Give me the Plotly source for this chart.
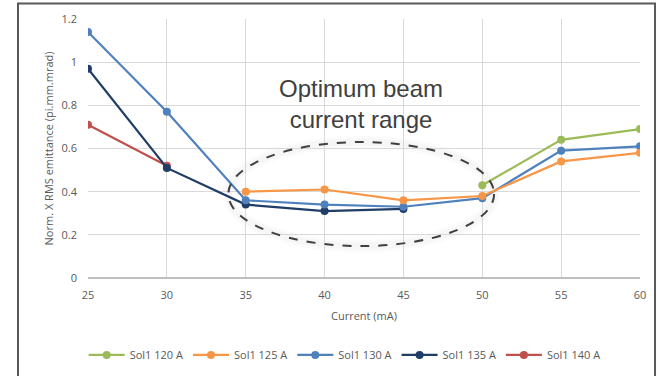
import plotly.graph_objects as go

x120 = [50, 55, 60]
y120 = [0.43, 0.64, 0.69]
x125 = [35, 40, 45, 50, 55, 60]
y125 = [0.40, 0.41, 0.36, 0.38, 0.54, 0.58]
x130 = [25, 30, 35, 40, 45, 50, 55, 60]
y130 = [1.14, 0.77, 0.36, 0.34, 0.33, 0.37, 0.59, 0.61]
x135 = [25, 30, 35, 40, 45]
y135 = [0.97, 0.51, 0.34, 0.31, 0.32]
x140 = [25, 30]
y140 = [0.71, 0.52]

names = ["Sol1 120 A", "Sol1 125 A", "Sol1 130 A", "Sol1 135 A", "Sol1 140 A"]
colors = ["#9BBB59", "#F79646", "#4F81BD", "#1F3D66", "#C0504D"]
series = [(x120, y120), (x125, y125), (x130, y130), (x135, y135), (x140, y140)]

font = "Open Sans, Liberation Sans, sans-serif"
fig = go.Figure()
order = [4, 3, 2, 1, 0]
for i in order:
    xs, ys = series[i]
    fig.add_trace(go.Scatter(x=xs, y=ys, name=names[i], mode="lines+markers",
                             line=dict(color=colors[i], width=2.2),
                             marker=dict(color=colors[i], size=8)))

# ellipse soft shadow
for w, op in [(12, 0.025), (7, 0.035)]:
    fig.add_shape(type="circle", xref="x", yref="y", x0=33.9, x1=50.75, y0=0.148, y1=0.63,
                  line=dict(color="gray", width=w), opacity=op, layer="below")
fig.add_shape(type="circle", xref="x", yref="y", x0=33.9, x1=50.75, y0=0.148, y1=0.63,
              line=dict(color="#404040", width=2, dash="dash"))

fig.add_annotation(x=42.3, y=0.805, xref="x", yref="y", text="Optimum beam<br>current range",
                   showarrow=False,
                   font=dict(family="Liberation Sans, Arial, sans-serif", size=24, color="#404040"))

# outer border
fig.add_shape(type="rect", xref="paper", yref="paper", x0=-0.1268, x1=1.0272, y0=-0.6, y1=1.0597,
              line=dict(color="#595959", width=2))

fig.update_layout(
    width=662, height=376,
    margin=dict(l=88, r=22, t=18.5, b=97.5, autoexpand=False),
    paper_bgcolor="white", plot_bgcolor="white",
    font=dict(family=font, size=11, color="#595959"),
    legend=dict(orientation="h", x=0.465, xanchor="center", y=-0.297, yanchor="middle",
                traceorder="reversed", font=dict(size=11, color="#595959"), itemwidth=36,
                tracegroupgap=0),
    xaxis=dict(range=[25, 60], dtick=5, tick0=25, showgrid=True, gridcolor="#D9D9D9",
               zeroline=False, showline=False, ticks="", ticklabelstandoff=9, automargin=False,
               title=dict(text="Current (mA)", standoff=11, font=dict(size=11, color="#595959"))),
    yaxis=dict(range=[0, 1.2], showgrid=True, gridcolor="#D9D9D9", automargin=False,
               zeroline=True, zerolinecolor="#BFBFBF", zerolinewidth=1.5, showline=False,
               ticks="", ticklabelstandoff=10,
               tickvals=[0, 0.2, 0.4, 0.6, 0.8, 1.0, 1.2],
               ticktext=["0", "0.2", "0.4", "0.6", "0.8", "1", "1.2"],
               title=dict(text="Norm. X RMS emittance (pi.mm.mrad)", standoff=5,
                          font=dict(size=11, color="#595959"))),
    showlegend=True,
)

fig.write_html("out.html")
